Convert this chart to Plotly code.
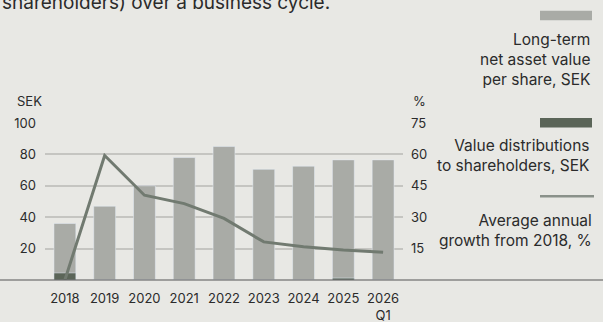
import plotly.graph_objects as go

years = ["2018", "2019", "2020", "2021", "2022", "2023", "2024", "2025", "2026<br>Q1"]
nav_per_share = [36, 47, 60, 78, 85, 70.5, 72.5, 76.5, 76.5]
distributions = [4.5, 0, 0, 0, 0, 0, 0, 1.2, 0]
avg_growth = [0, 59.5, 40.5, 36.5, 29.4, 18.2, 15.9, 14.3, 13.2]

BG = "#e8e8e4"
LIGHT = "#a9aba6"
DARK = "#5b6558"
LINE = "#717a70"
TXT = "#2b2b2b"
FONT = "Inter"

# plot-area geometry in pixels (for decoration placement)
L, R, T, B = 45, 200, 122.5, 42
W, H = 603, 322
PW, PH = W - L - R, H - T - B

def px(x):
    return (x - L) / PW

def py(y):
    return (H - B - y) / PH

fig = go.Figure()
fig.add_bar(x=years, y=nav_per_share, marker_color=LIGHT, width=0.55,
            name="Long-term net asset value per share, SEK")
fig.add_bar(x=years, y=distributions, marker_color=DARK, width=0.55,
            name="Value distributions to shareholders, SEK")
fig.add_scatter(x=years, y=avg_growth, yaxis="y2", mode="lines",
                line=dict(color=LINE, width=3), name="Average annual growth from 2018, %")

fig.update_layout(
    width=W, height=H,
    margin=dict(l=L, r=R, t=T, b=B, pad=0, autoexpand=False),
    paper_bgcolor=BG, plot_bgcolor=BG,
    barmode="overlay", showlegend=False,
    font=dict(family=FONT, color=TXT, size=13),
    xaxis=dict(type="category", range=[-0.5, 8.5], showgrid=False, zeroline=False,
               showline=False, ticks="outside", ticklen=6, tickcolor="rgba(0,0,0,0)",
               automargin=False, tickfont=dict(size=13, color=TXT)),
    yaxis=dict(range=[0, 100], tickvals=[20, 40, 60, 80, 100], showgrid=True,
               gridcolor="#c5c5c1", gridwidth=1.5, zeroline=False, showline=False,
               automargin=False, ticks="", ticklabelstandoff=8, tickfont=dict(size=13, color=TXT)),
    yaxis2=dict(range=[0, 75], tickvals=[15, 30, 45, 60, 75], overlaying="y", side="right",
                showgrid=False, zeroline=False, showline=False, ticks="", automargin=False,
                ticklabelstandoff=7, tickfont=dict(size=13, color=TXT)),
)

shapes = [
    dict(type="line", xref="paper", yref="paper", x0=px(0), x1=px(W), y0=0, y1=0,
         line=dict(color="#555555", width=1.2), layer="above"),
    dict(type="rect", xref="paper", yref="paper", x0=px(540), x1=px(592), y0=py(10), y1=py(19.5),
         fillcolor=LIGHT, line=dict(width=0)),
    dict(type="rect", xref="paper", yref="paper", x0=px(540), x1=px(592), y0=py(117.5), y1=py(127),
         fillcolor=DARK, line=dict(width=0)),
    dict(type="line", xref="paper", yref="paper", x0=px(540), x1=px(594), y0=py(196), y1=py(196),
         line=dict(color="#8a918a", width=2.5)),
]
fig.update_layout(shapes=shapes)

def ann(text, x, y, xanchor, size, align="right"):
    fig.add_annotation(text=text, xref="paper", yref="paper", x=px(x), y=py(y),
                       xanchor=xanchor, yanchor="middle", showarrow=False, align=align,
                       font=dict(size=size, color=TXT, family=FONT))

ann("shareholders) over a business cycle.", 0, 2, "left", 19, "left")
ann("SEK", 15, 100, "left", 13, "left")
ann("%", 411, 100, "left", 13, "left")
ann("Long-term<br>net asset value<br>per share, SEK", 592, 59, "right", 15.5)
ann("Value distributions<br>to shareholders, SEK", 592, 155, "right", 15.5)
ann("Average annual<br>growth from 2018, %", 594, 230, "right", 15.5)

fig.write_html("out.html")
